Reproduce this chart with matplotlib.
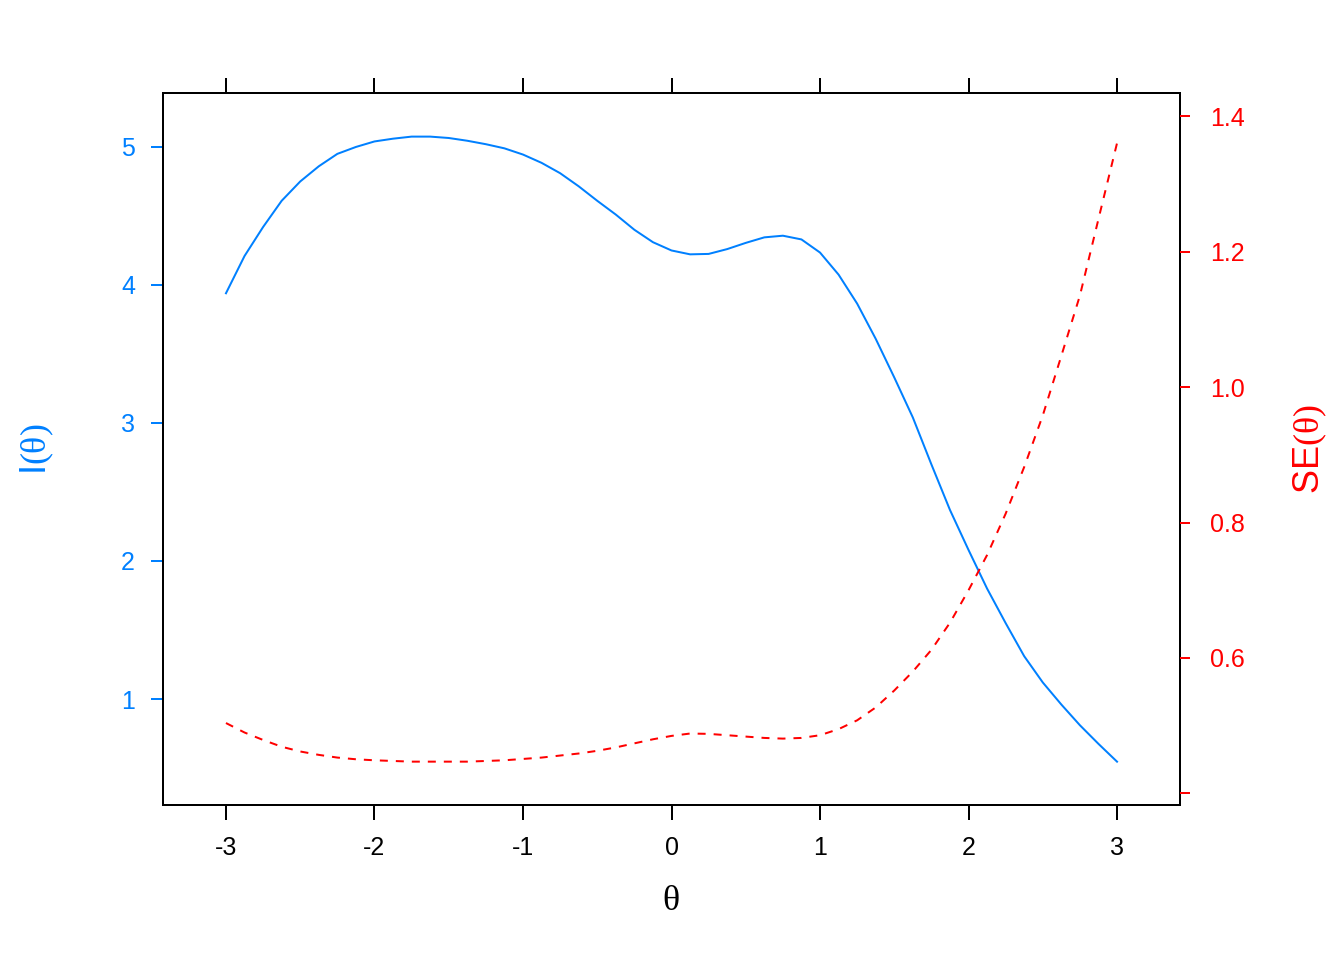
import matplotlib
matplotlib.use("Agg")
import matplotlib.pyplot as plt

# ---- data ----
theta = [-3.0, -2.875, -2.75, -2.625, -2.5, -2.375, -2.25, -2.125, -2.0, -1.875,
         -1.75, -1.625, -1.5, -1.375, -1.25, -1.125, -1.0, -0.875, -0.75, -0.625,
         -0.5, -0.375, -0.25, -0.125, 0.0, 0.125, 0.25, 0.375, 0.5, 0.625,
         0.75, 0.875, 1.0, 1.125, 1.25, 1.375, 1.5, 1.625, 1.75, 1.875,
         2.0, 2.125, 2.25, 2.375, 2.5, 2.625, 2.75, 2.875, 3.0]
info = [3.94, 4.21, 4.42, 4.61, 4.75, 4.86, 4.95, 5.00, 5.04, 5.06,
        5.075, 5.075, 5.065, 5.045, 5.02, 4.99, 4.945, 4.885, 4.81, 4.715,
        4.61, 4.51, 4.40, 4.31, 4.25, 4.222, 4.225, 4.26, 4.305, 4.345,
        4.357, 4.33, 4.235, 4.075, 3.865, 3.61, 3.33, 3.04, 2.70, 2.37,
        2.08, 1.80, 1.55, 1.31, 1.12, 0.96, 0.81, 0.675, 0.546]
se = [0.504, 0.490, 0.479, 0.469, 0.462, 0.457, 0.453, 0.4505, 0.449, 0.448,
      0.447, 0.447, 0.447, 0.447, 0.448, 0.449, 0.451, 0.453, 0.456, 0.459,
      0.463, 0.468, 0.474, 0.480, 0.485, 0.4885, 0.488, 0.486, 0.484, 0.482,
      0.481, 0.482, 0.486, 0.495, 0.508, 0.527, 0.552, 0.580, 0.612, 0.652,
      0.700, 0.752, 0.813, 0.882, 0.958, 1.046, 1.135, 1.248, 1.36]

x_ticks = [-3, -2, -1, 0, 1, 2, 3]
left_ticks = [1, 2, 3, 4, 5]
right_ticks = [0.4, 0.6, 0.8, 1.0, 1.2, 1.4]
right_labels = ["", "0.6", "0.8", "1.0", "1.2", "1.4"]

BLUE = "#0080FF"
RED = "#FF0000"

plt.rcParams['font.family'] = ['Liberation Sans', 'DejaVu Sans']
plt.rcParams['mathtext.fontset'] = 'custom'
plt.rcParams['mathtext.rm'] = 'Liberation Serif'
plt.rcParams['mathtext.sf'] = 'Liberation Sans'

fig = plt.figure(figsize=(1344 / 144, 960 / 144), dpi=144)
ax = fig.add_axes([163 / 1344, 1 - 805 / 960, (1180 - 163) / 1344, (805 - 93) / 960])
ax2 = ax.twinx()

ax.plot(theta, info, color=BLUE, lw=1.0)
ax2.plot(theta, se, color=RED, lw=1.0, dashes=(4, 4))

ax.set_xlim(-3.424, 3.424)
ax.set_ylim(0.232, 5.391)
ax2.set_ylim(0.383, 1.434)

ax.set_xticks(x_ticks)
ax.set_xticklabels([str(t) for t in x_ticks])
ax.set_yticks(left_ticks)
ax.set_yticklabels([str(t) for t in left_ticks])
ax2.set_yticks(right_ticks)
ax2.set_yticklabels(right_labels)

for sp in ax.spines.values():
    sp.set_linewidth(1.0)
    sp.set_color("black")
for sp in ax2.spines.values():
    sp.set_visible(False)

ax.tick_params(axis='x', which='both', direction='out', length=7.5, width=1.0,
               top=True, labeltop=False, bottom=True, labelsize=12.5, pad=8, colors='black')
ax.tick_params(axis='y', direction='out', length=6, width=1.0, colors=BLUE,
               labelsize=12.5, pad=8, right=False)
ax2.tick_params(axis='y', direction='out', length=5, width=1.0, colors=RED,
                labelsize=12.5, pad=10, left=False)

fig.text(37 / 1344, 1 - 449 / 960, r'$\mathsf{I}\mathrm{(\theta)}$', rotation=90,
         color=BLUE, fontsize=18, ha='center', va='center')
fig.text(1310 / 1344, 1 - 449 / 960, r'$\mathsf{SE}\mathrm{(\theta)}$', rotation=90,
         color=RED, fontsize=18, ha='center', va='center')
fig.text(671 / 1344, 1 - 900 / 960, r'$\mathrm{\theta}$', color='black', fontsize=18,
         ha='center', va='center')

fig.savefig("out.png", dpi=144)
